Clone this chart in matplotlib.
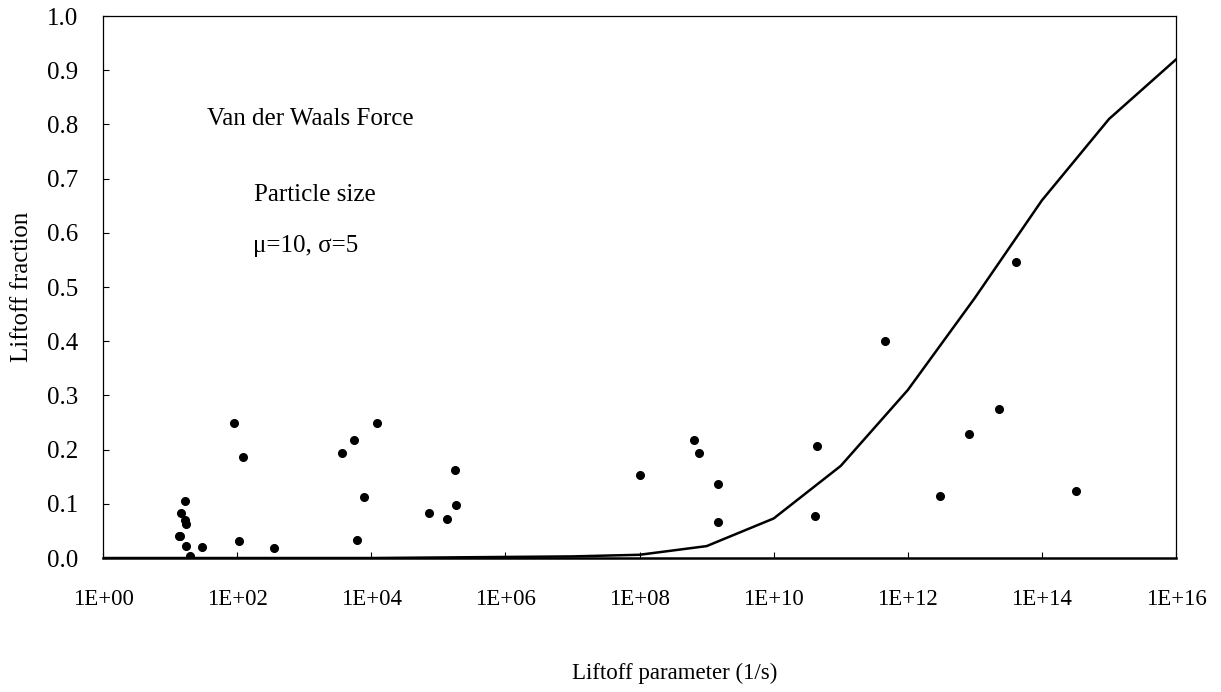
import numpy as np
import matplotlib
matplotlib.use('Agg')
import matplotlib.pyplot as plt

# measured points
meas_x = [16.6, 14.5, 16.6, 17.4, 14.1, 13.5, 17.4, 20.0, 29.5, 91, 123, 107, 355,
          3.7e3, 5.5e3, 1.23e4, 7.9e3, 6.2e3, 7.2e4, 1.35e5, 1.78e5, 1.86e5,
          1.0e8, 6.5e8, 7.8e8, 1.5e9, 1.5e9,
          4.1e13, 4.5e11, 2.3e13, 8.1e12, 4.4e10, 3.0e12, 3.2e14, 4.1e10]
meas_y = [0.105, 0.084, 0.070, 0.062, 0.041, 0.040, 0.023, 0.004, 0.020, 0.250, 0.187, 0.032, 0.019,
          0.193, 0.217, 0.250, 0.113, 0.033, 0.084, 0.072, 0.163, 0.098,
          0.153, 0.218, 0.193, 0.137, 0.067,
          0.547, 0.400, 0.275, 0.229, 0.206, 0.115, 0.123, 0.077]

# model curve
model_x = [1e0, 1e1, 1e2, 1e3, 1e4, 1e5, 1e6, 1e7, 1e8, 1e9, 1e10, 1e11, 1e12, 1e13, 1e14, 1e15, 1e16]
model_y = [0.0, 0.0, 0.0, 0.0, 0.0, 0.001, 0.002, 0.003, 0.006, 0.022, 0.073, 0.17, 0.31, 0.48, 0.66, 0.81, 0.92]

xticks = [1e0, 1e2, 1e4, 1e6, 1e8, 1e10, 1e12, 1e14, 1e16]
xticklabels = ['1E+00', '1E+02', '1E+04', '1E+06', '1E+08', '1E+10', '1E+12', '1E+14', '1E+16']
yticks = [0.0, 0.1, 0.2, 0.3, 0.4, 0.5, 0.6, 0.7, 0.8, 0.9, 1.0]

plt.rcParams['font.family'] = ['Liberation Serif', 'DejaVu Serif']

fig = plt.figure(figsize=(12.21, 6.92), dpi=100)
ax = fig.add_axes([0.0844, 0.1936, 0.8788, 0.7832])

ax.plot(model_x, model_y, color='black', lw=1.8, zorder=2)
ax.plot(meas_x, meas_y, 'o', color='black', ms=5.5, zorder=3)

ax.set_xscale('log')
ax.set_xlim(1e0, 1e16)
ax.set_ylim(0, 1.0)
ax.set_xticks(xticks)
ax.set_xticklabels(xticklabels, fontsize=16.5)
ax.minorticks_off()
ax.set_yticks(yticks)
ax.set_yticklabels(['%.1f' % v for v in yticks], fontsize=18)
ax.tick_params(axis='x', direction='in', length=4, width=0.8, pad=22)
ax.tick_params(axis='y', direction='in', length=4, width=0.8, pad=18)

for s in ax.spines.values():
    s.set_linewidth(0.9)
ax.spines['bottom'].set_linewidth(1.8)

ax.set_xlabel('Liftoff parameter (1/s)', fontsize=16.5)
ax.xaxis.label.set_va('center')
ax.xaxis.set_label_coords(0.533, -0.212)
ax.set_ylabel('Liftoff fraction', fontsize=18)
ax.yaxis.label.set_va('center')
ax.yaxis.set_label_coords(-0.0755, 0.5)

ax.text(10**1.55, 0.81, 'Van der Waals Force', fontsize=18, va='center', ha='left')
ax.text(10**2.25, 0.67, 'Particle size', fontsize=18, va='center', ha='left')
ax.text(10**2.24, 0.576, 'μ=10, σ=5', fontsize=18, va='center', ha='left')

fig.savefig('out.png', dpi=100)
